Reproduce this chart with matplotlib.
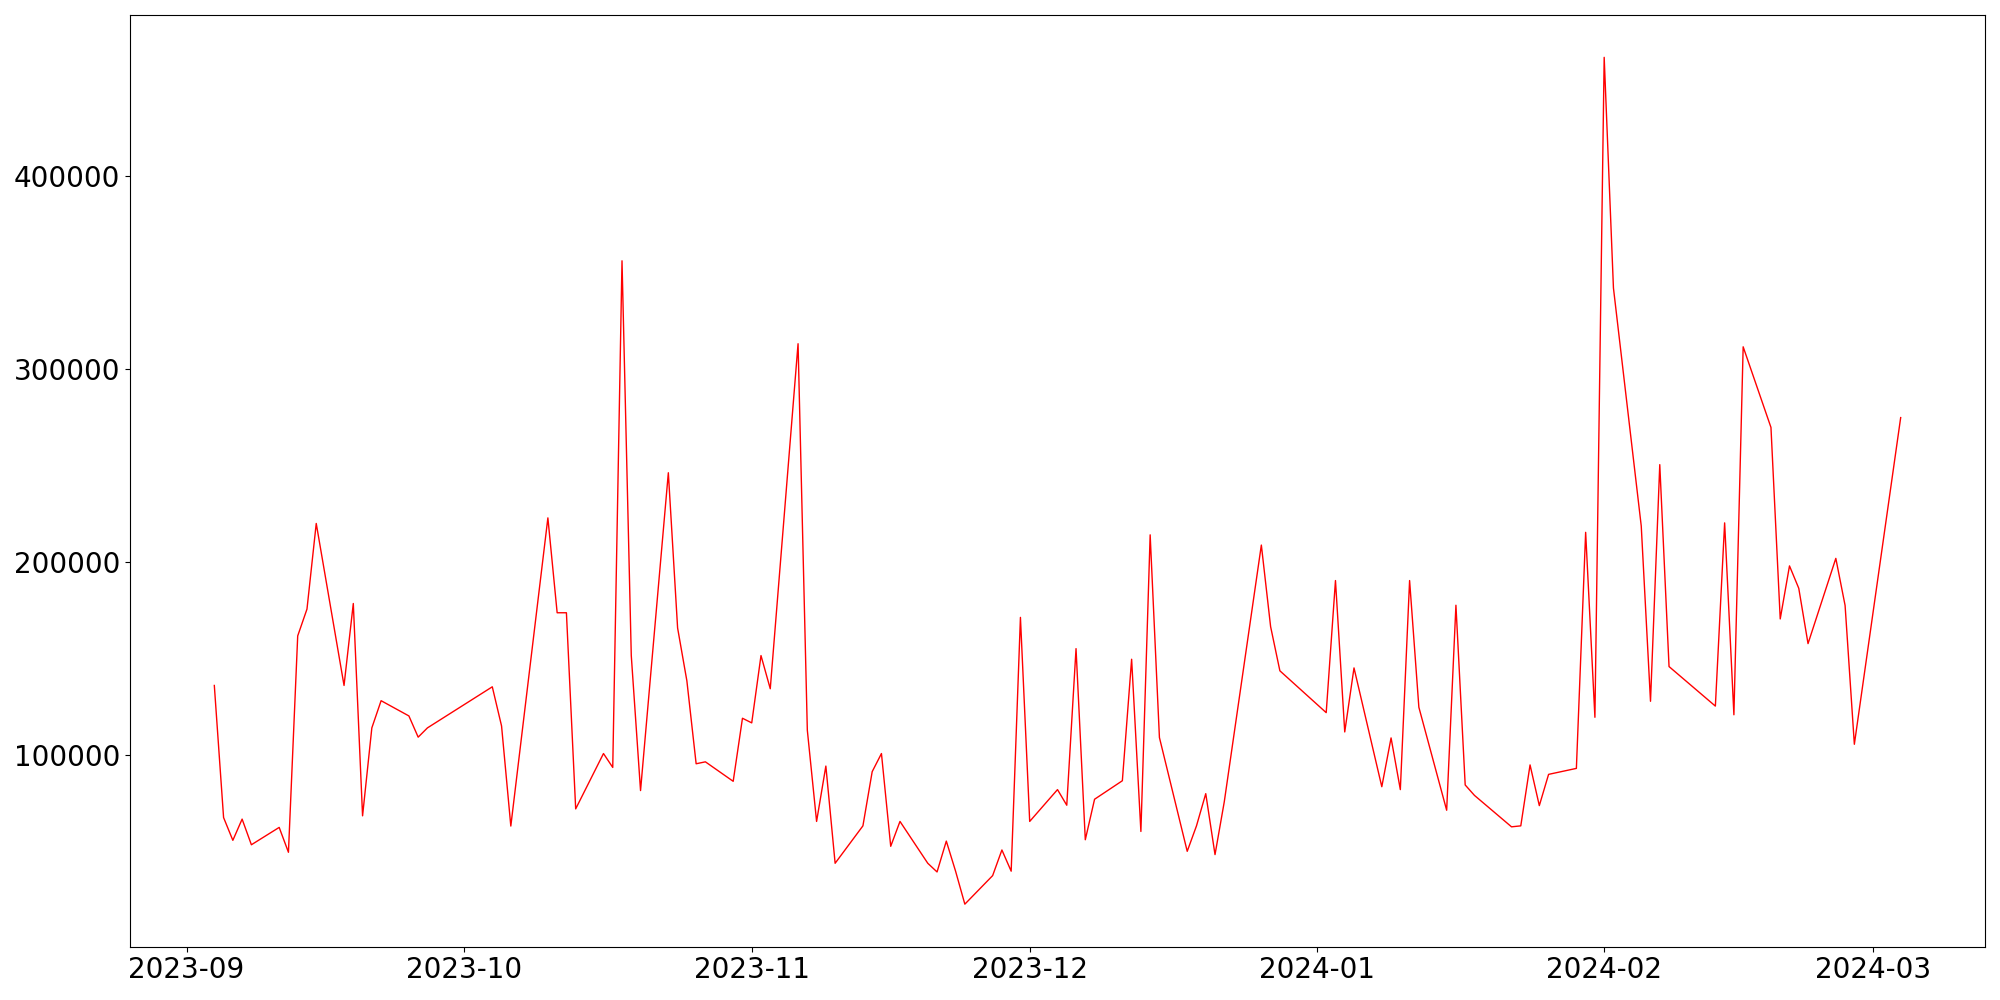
import matplotlib
matplotlib.use("Agg")
import matplotlib.pyplot as plt
import matplotlib.dates as mdates
import pandas as pd

dates = [
    "2023-09-04", "2023-09-05", "2023-09-06", "2023-09-07", "2023-09-08",
    "2023-09-11", "2023-09-12", "2023-09-13", "2023-09-14", "2023-09-15",
    "2023-09-18", "2023-09-19", "2023-09-20", "2023-09-21", "2023-09-22",
    "2023-09-25", "2023-09-26", "2023-09-27",
    "2023-10-04", "2023-10-05", "2023-10-06",
    "2023-10-10", "2023-10-11", "2023-10-12", "2023-10-13",
    "2023-10-16", "2023-10-17", "2023-10-18", "2023-10-19", "2023-10-20",
    "2023-10-23", "2023-10-24", "2023-10-25", "2023-10-26", "2023-10-27",
    "2023-10-30", "2023-10-31", "2023-11-01", "2023-11-02", "2023-11-03",
    "2023-11-06", "2023-11-07", "2023-11-08", "2023-11-09", "2023-11-10",
    "2023-11-13", "2023-11-14", "2023-11-15", "2023-11-16", "2023-11-17",
    "2023-11-20", "2023-11-21", "2023-11-22", "2023-11-23", "2023-11-24",
    "2023-11-27", "2023-11-28", "2023-11-29", "2023-11-30", "2023-12-01",
    "2023-12-04", "2023-12-05", "2023-12-06", "2023-12-07", "2023-12-08",
    "2023-12-11", "2023-12-12", "2023-12-13", "2023-12-14", "2023-12-15",
    "2023-12-18", "2023-12-19", "2023-12-20", "2023-12-21", "2023-12-22",
    "2023-12-26", "2023-12-27", "2023-12-28",
    "2024-01-02", "2024-01-03", "2024-01-04", "2024-01-05",
    "2024-01-08", "2024-01-09", "2024-01-10", "2024-01-11", "2024-01-12",
    "2024-01-15", "2024-01-16", "2024-01-17", "2024-01-18",
    "2024-01-22", "2024-01-23", "2024-01-24", "2024-01-25", "2024-01-26",
    "2024-01-29", "2024-01-30", "2024-01-31", "2024-02-01", "2024-02-02",
    "2024-02-05", "2024-02-06", "2024-02-07", "2024-02-08",
    "2024-02-13", "2024-02-14", "2024-02-15", "2024-02-16",
    "2024-02-19", "2024-02-20", "2024-02-21", "2024-02-22", "2024-02-23",
    "2024-02-26", "2024-02-27", "2024-02-28",
    "2024-03-04",
]

values = [
    135800, 67300, 55500, 66500, 53200,
    62200, 49300, 161500, 175400, 219800,
    135800, 178300, 68200, 113800, 127900,
    120000, 109000, 113800,
    135100, 114800, 62900,
    222700, 173500, 173500, 71800,
    100500, 93300, 356000, 151300, 81300,
    246100, 165600, 138200, 95200, 96200,
    86100, 118800, 116400, 151300, 134100,
    313000, 112600, 65300, 94000, 43600,
    63000, 91100, 100500, 52400, 65300,
    43600, 39100, 55100, 39500, 22400,
    37200, 50500, 39500, 171100, 65300,
    81800, 73700, 154900, 55800, 76800,
    86400, 149400, 60100, 213900, 108800,
    49800, 63000, 79700, 48100, 75500,
    208600, 166300, 143400,
    121700, 190200, 111700, 144900,
    83300, 108600, 81800, 190200, 124500,
    71100, 177400, 84200, 78800,
    62500, 63000, 94600, 73500, 89700,
    92800, 215200, 119300, 461500, 341900,
    218500, 127600, 250300, 145600,
    125100, 220100, 120600, 311400,
    269600, 170300, 197800, 186200, 157500,
    201700, 177300, 105300,
    274700,
]

x = pd.to_datetime(dates)

fig = plt.figure(figsize=(20, 10), dpi=100)
ax = fig.add_axes([0.065, 0.0535, 0.9275, 0.9315])
ax.plot(x, values, color="red", linewidth=1)

ax.xaxis.set_major_locator(mdates.MonthLocator())
ax.xaxis.set_major_formatter(mdates.DateFormatter("%Y-%m"))
ax.tick_params(axis="both", labelsize=20)

fig.savefig("out.png", dpi=100)
